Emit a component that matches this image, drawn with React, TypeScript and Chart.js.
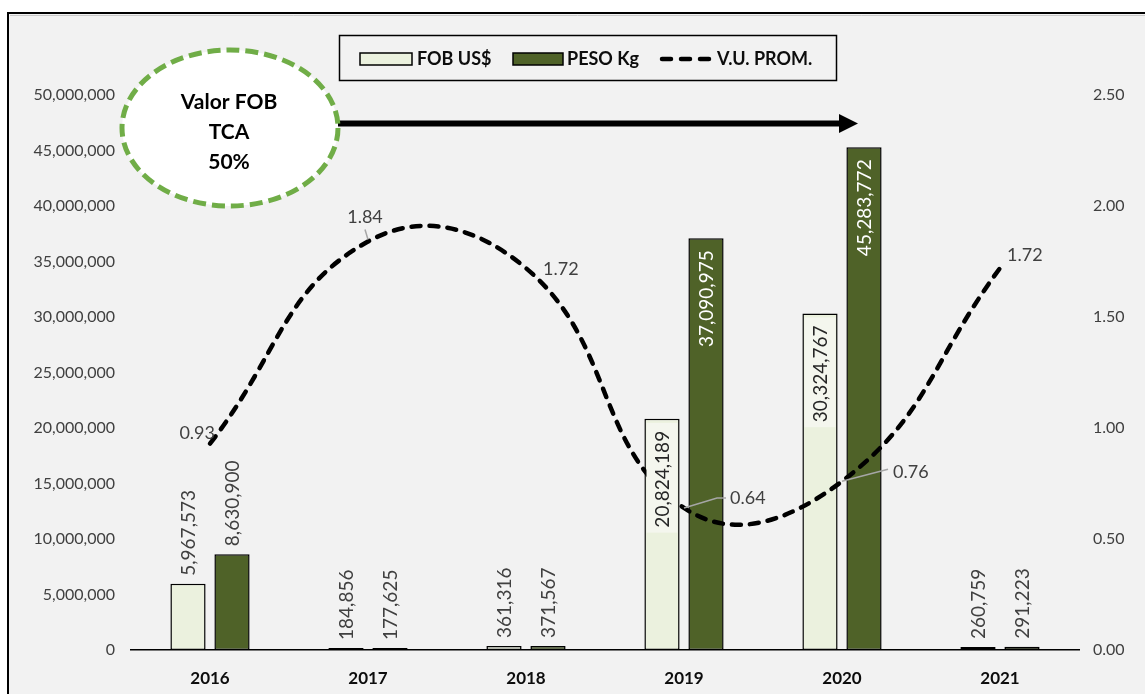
import React, { useEffect, useRef } from 'react';
import { Chart, registerables } from 'chart.js';

Chart.register(...registerables);

// ---- Data ----
const categories = ['2016', '2017', '2018', '2019', '2020', '2021'];
const fobUsd = [5967573, 184856, 361316, 20824189, 30324767, 260759];
const pesoKg = [8630900, 177625, 371567, 37090975, 45283772, 291223];
const vuProm = [0.93, 1.84, 1.72, 0.64, 0.76, 1.72];
const seriesNames = ['FOB US$', 'PESO Kg', 'V.U. PROM.'];
const leftAxisMax = 50000000;
const leftAxisStep = 5000000;
const rightAxisMax = 2.5;
const rightAxisStep = 0.5;
const calloutLines = ['Valor FOB', 'TCA', '50%'];

// ---- Style / label placement (not data) ----
const FONT = 'Lato, "Open Sans", sans-serif';
const FOB_COLOR = '#ebf1de';
const PESO_COLOR = '#4f6228';
const TEXT_GRAY = '#404040';
const barLabelInside = [false, false, false, true, true, false];
const lineLabelPlacement = [
  { dx: 5, dy: -10, align: 'right' },
  { dx: -3, dy: -24, align: 'center' },
  { dx: 17, dy: 1, align: 'left' },
  { dx: 46, dy: -10, align: 'left' },
  { dx: 51, dy: -9, align: 'left' },
  { dx: 7, dy: -13, align: 'left' },
];
const lineLabelLeaders: number[][][] = [
  [],
  [[0, -2], [-3, -12]],
  [],
  [[0, 0], [33, -10], [42, -10]],
  [[0, 0], [46, -12]],
  [],
];

const decorPlugin = {
  id: 'decor',
  beforeDraw(chart: any) {
    const ctx = chart.ctx;
    const W = chart.width;
    const H = chart.height;
    ctx.save();
    ctx.fillStyle = '#ffffff';
    ctx.fillRect(0, 0, W, H);
    ctx.fillStyle = '#f2f2f2';
    ctx.fillRect(9, 13, W - 9, H - 13);
    ctx.strokeStyle = '#c8c8c8';
    ctx.lineWidth = 1;
    ctx.beginPath();
    ctx.moveTo(10, 15.5);
    ctx.lineTo(W, 15.5);
    ctx.stroke();
    ctx.strokeStyle = '#000';
    ctx.lineWidth = 2;
    ctx.beginPath();
    ctx.moveTo(8, H);
    ctx.lineTo(8, 13);
    ctx.lineTo(W, 13);
    ctx.stroke();
    ctx.restore();
  },
  afterDatasetsDraw(chart: any) {
    const ctx = chart.ctx;
    // bar labels
    [fobUsd, pesoKg].forEach((vals, di) => {
      const meta = chart.getDatasetMeta(di);
      meta.data.forEach((bar: any, j: number) => {
        const x = bar.x;
        const y = bar.y;
        const txt = vals[j].toLocaleString('en-US');
        ctx.save();
        ctx.font = `19px ${FONT}`;
        ctx.textBaseline = 'middle';
        const w = ctx.measureText(txt).width;
        if (barLabelInside[j]) {
          ctx.translate(x, y + 12);
          ctx.rotate(-Math.PI / 2);
          if (di === 0) {
            ctx.fillStyle = '#f4f6ee';
            ctx.fillRect(-w - 5, -15.5, w + 13, 31);
            ctx.fillStyle = '#262626';
          } else {
            ctx.fillStyle = '#ffffff';
          }
          ctx.textAlign = 'right';
          ctx.fillText(txt, 0, 1);
        } else {
          ctx.translate(x, y - 8);
          ctx.rotate(-Math.PI / 2);
          ctx.textAlign = 'left';
          ctx.fillStyle = TEXT_GRAY;
          ctx.fillText(txt, 0, 1);
        }
        ctx.restore();
      });
    });
    // line labels
    const lmeta = chart.getDatasetMeta(2);
    lmeta.data.forEach((pt: any, j: number) => {
      const px = pt.x;
      const py = pt.y;
      const leader = lineLabelLeaders[j];
      ctx.save();
      if (leader.length) {
        ctx.strokeStyle = '#a6a6a6';
        ctx.lineWidth = 1.5;
        ctx.beginPath();
        leader.forEach((p, k) => {
          if (k === 0) ctx.moveTo(px + p[0], py + p[1]);
          else ctx.lineTo(px + p[0], py + p[1]);
        });
        ctx.stroke();
      }
      const pl = lineLabelPlacement[j];
      ctx.font = `18px ${FONT}`;
      ctx.fillStyle = TEXT_GRAY;
      ctx.textAlign = pl.align;
      ctx.textBaseline = 'middle';
      ctx.fillText(vuProm[j].toFixed(2), px + pl.dx, py + pl.dy);
      ctx.restore();
    });
  },
  afterDraw(chart: any) {
    const ctx = chart.ctx;
    ctx.save();
    // legend
    ctx.fillStyle = '#f2f2f2';
    ctx.fillRect(339.5, 35.5, 497, 45);
    ctx.strokeStyle = '#000';
    ctx.lineWidth = 1.5;
    ctx.strokeRect(339.5, 35.5, 497, 45);
    ctx.font = `bold 18px ${FONT}`;
    ctx.textBaseline = 'middle';
    ctx.textAlign = 'left';
    ctx.fillStyle = FOB_COLOR;
    ctx.fillRect(360, 53, 52, 12);
    ctx.strokeRect(360, 53, 52, 12);
    ctx.fillStyle = '#0d0d0d';
    ctx.fillText(seriesNames[0], 417, 59);
    ctx.fillStyle = PESO_COLOR;
    ctx.fillRect(513, 53, 50, 12);
    ctx.strokeRect(513, 53, 50, 12);
    ctx.fillStyle = '#0d0d0d';
    ctx.fillText(seriesNames[1], 567, 59);
    ctx.save();
    ctx.lineWidth = 4.5;
    ctx.lineCap = 'round';
    ctx.setLineDash([9, 10]);
    ctx.beginPath();
    ctx.moveTo(662, 59);
    ctx.lineTo(711, 59);
    ctx.stroke();
    ctx.restore();
    ctx.fillText(seriesNames[2], 717, 59);

    // arrow
    ctx.strokeStyle = '#000';
    ctx.lineWidth = 6;
    ctx.beginPath();
    ctx.moveTo(338, 123.5);
    ctx.lineTo(842, 123.5);
    ctx.stroke();
    ctx.fillStyle = '#000';
    ctx.beginPath();
    ctx.moveTo(839, 114);
    ctx.lineTo(858, 123.5);
    ctx.lineTo(839, 133);
    ctx.closePath();
    ctx.fill();

    // callout ellipse
    ctx.beginPath();
    ctx.ellipse(230, 128, 108, 78, 0, 0, Math.PI * 2);
    ctx.fillStyle = '#ffffff';
    ctx.fill();
    ctx.strokeStyle = '#70ad47';
    ctx.lineWidth = 5;
    ctx.setLineDash([13, 6]);
    ctx.stroke();
    ctx.setLineDash([]);
    ctx.fillStyle = '#000';
    ctx.font = `bold 21px ${FONT}`;
    ctx.textAlign = 'center';
    ctx.textBaseline = 'middle';
    calloutLines.forEach((t, i) => ctx.fillText(t, 229, 102 + i * 30));
    ctx.restore();
  },
};

export default function App() {
  const ref = useRef<HTMLCanvasElement>(null);
  useEffect(() => {
    if (!ref.current) return;
    const chart = new Chart(ref.current, {
      type: 'bar',
      data: {
        labels: categories,
        datasets: [
          {
            type: 'bar',
            label: seriesNames[0],
            data: fobUsd,
            backgroundColor: FOB_COLOR,
            borderColor: '#000',
            borderWidth: 1.5,
            borderSkipped: false,
            yAxisID: 'y',
            categoryPercentage: 0.557,
            barPercentage: 0.8,
            order: 1,
          },
          {
            type: 'bar',
            label: seriesNames[1],
            data: pesoKg,
            backgroundColor: PESO_COLOR,
            borderColor: '#000',
            borderWidth: 1.5,
            borderSkipped: false,
            yAxisID: 'y',
            categoryPercentage: 0.557,
            barPercentage: 0.8,
            order: 1,
          },
          {
            type: 'line',
            label: seriesNames[2],
            data: vuProm,
            borderColor: '#000',
            borderWidth: 4.5,
            borderDash: [9, 9],
            borderCapStyle: 'round',
            pointRadius: 0,
            tension: 0.44,
            fill: false,
            yAxisID: 'y1',
            order: 0,
          },
        ],
      } as any,
      options: {
        responsive: false,
        devicePixelRatio: 1,
        animation: false,
        layout: { padding: { top: 95, left: 0, right: 0, bottom: 0 } },
        plugins: {
          legend: { display: false },
          tooltip: { enabled: false },
        },
        scales: {
          x: {
            offset: true,
            grid: { display: false, drawTicks: false },
            border: { display: true, color: '#000', width: 1.5 },
            ticks: {
              color: '#0d0d0d',
              font: { family: FONT, size: 17, weight: 'bold' },
              padding: 18,
            },
            afterFit: (s: any) => {
              s.height = 44;
            },
          },
          y: {
            position: 'left',
            min: 0,
            max: leftAxisMax,
            grid: { display: false, drawTicks: false },
            border: { display: false },
            ticks: {
              stepSize: leftAxisStep,
              color: TEXT_GRAY,
              font: { family: FONT, size: 16 },
              padding: 16,
              callback: (v: any) => Number(v).toLocaleString('en-US'),
            },
            afterFit: (s: any) => {
              s.width = 131;
            },
          },
          y1: {
            position: 'right',
            min: 0,
            max: rightAxisMax,
            grid: { display: false, drawTicks: false },
            border: { display: false },
            ticks: {
              stepSize: rightAxisStep,
              color: TEXT_GRAY,
              font: { family: FONT, size: 16 },
              padding: 14,
              callback: (v: any) => Number(v).toFixed(2),
            },
            afterFit: (s: any) => {
              s.width = 66;
            },
          },
        },
      } as any,
      plugins: [decorPlugin],
    });
    return () => chart.destroy();
  }, []);
  return (
    <div style={{ position: 'fixed', left: 0, top: 0, width: 1145, height: 694 }}>
      <canvas ref={ref} width={1145} height={694} style={{ display: 'block' }} />
    </div>
  );
}
